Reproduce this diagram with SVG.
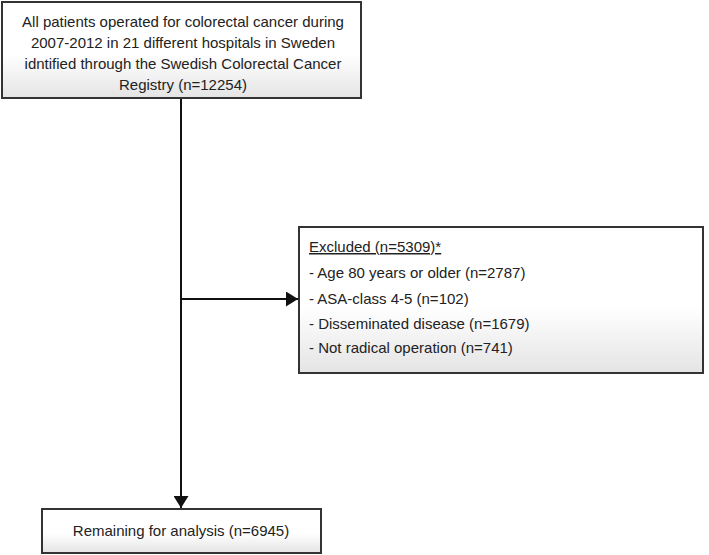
<svg xmlns="http://www.w3.org/2000/svg" width="709" height="555" viewBox="0 0 709 555">
<defs>
<linearGradient id="g" x1="0" y1="0" x2="0" y2="1">
<stop offset="0" stop-color="#ffffff"/>
<stop offset="0.55" stop-color="#ffffff"/>
<stop offset="1" stop-color="#e4e4e4"/>
</linearGradient>
<marker id="ahd" viewBox="0 0 10 10" refX="10" refY="5" markerWidth="12" markerHeight="15" markerUnits="userSpaceOnUse" orient="auto" preserveAspectRatio="none">
<path d="M0,0 L10,5 L0,10 z" fill="#111"/>
</marker>
</defs>
<style>
.box{fill:url(#g);stroke:#333;stroke-width:2}
.t{font-family:"Liberation Sans",Arial,sans-serif;font-size:15px;fill:#222}
.c{stroke:#111;stroke-width:2;fill:none}
</style>
<rect width="709" height="555" fill="#fff"/>
<g id="connectors">
<line class="c" x1="181" y1="98" x2="181" y2="508" marker-end="url(#ahd)"/>
<line class="c" x1="181" y1="299" x2="298" y2="299" marker-end="url(#ahd)"/>
</g>
<g id="top">
<rect class="box" x="2" y="2" width="359" height="96"/>
<text class="t" text-anchor="middle" x="183" y="27">All patients operated for colorectal cancer during</text>
<text class="t" text-anchor="middle" x="183" y="48">2007-2012 in 21 different hospitals in Sweden</text>
<text class="t" text-anchor="middle" x="183" y="69">idntified through the Swedish Colorectal Cancer</text>
<text class="t" text-anchor="middle" x="183" y="90">Registry (n=12254)</text>
</g>
<g id="excluded">
<rect class="box" x="299" y="227" width="404" height="146"/>
<text class="t" x="309" y="252" text-decoration="underline">Excluded (n=5309)*</text>
<text class="t" x="309" y="278">- Age 80 years or older (n=2787)</text>
<text class="t" x="309" y="304">- ASA-class 4-5 (n=102)</text>
<text class="t" x="309" y="329">- Disseminated disease (n=1679)</text>
<text class="t" x="309" y="353">- Not radical operation (n=741)</text>
</g>
<g id="remaining">
<rect class="box" x="42" y="509" width="279" height="44"/>
<text class="t" text-anchor="middle" x="181" y="536">Remaining for analysis (n=6945)</text>
</g>
</svg>
